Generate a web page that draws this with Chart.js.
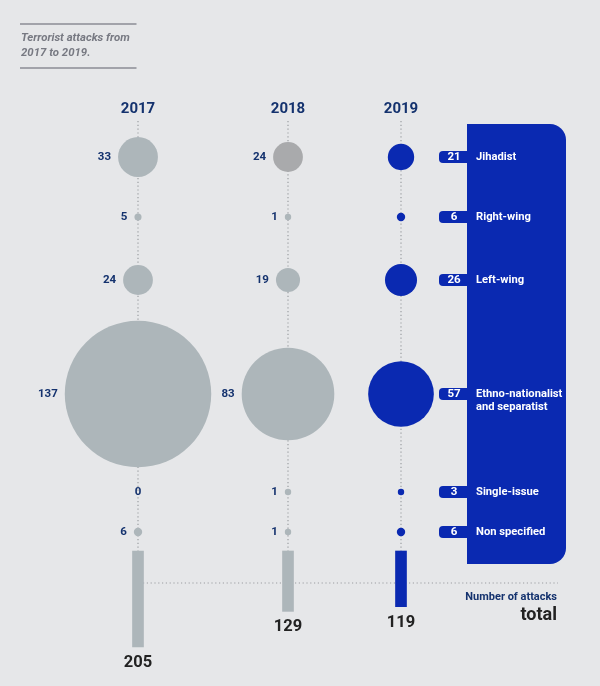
<!DOCTYPE html>
<html><head><meta charset="utf-8">
<script src="https://cdn.jsdelivr.net/npm/chart.js@4"></script>
<style>html,body{margin:0;padding:0;background:#e6e7e9;}canvas{display:block;}</style>
</head><body>
<canvas id="c" width="600" height="686" style="width:600px;height:686px"></canvas>
<script>
// ---- data ----
const years = ['2017', '2018', '2019'];
const categories = ['Jihadist', 'Right-wing', 'Left-wing', 'Ethno-nationalist\nand separatist', 'Single-issue', 'Non specified'];
const attacks2017 = [33, 5, 24, 137, 0, 6];
const attacks2018 = [24, 1, 19, 83, 1, 1];
const attacks2019 = [21, 6, 26, 57, 3, 6];
const totals = [205, 129, 119];
const titleLines = ['Terrorist attacks from', '2017 to 2019.'];

// ---- layout / style ----
const COL_X = [138, 288, 401];
const ROW_Y = [157, 217, 280, 394, 492, 532];
const LINE_TOP = 121, BAR_BASE = 551, H_LINE_Y = 583, H_LINE_X = [143, 558];
const BAR_PX = 0.468;
const GRAY = '#adb6ba', GRAY_DARK = '#a9aaac', BLUE = '#0a29b1', NAVY = '#14326e', DOT = '#9c9ea2';
const FONT = 'Roboto, "Noto Sans", sans-serif';

const series = [attacks2017, attacks2018, attacks2019];
function radiusFor(v) { if (v === 0) return 0; return Math.max(3.2, 0.816 * Math.pow(v, 0.914)); }
function colorFor(col, row) {
  if (col === 2) return BLUE;
  if (col === 1 && row === 0) return GRAY_DARK;
  return GRAY;
}

const bubblePts = [], bubbleCols = [];
series.forEach((vals, c) => vals.forEach((v, r) => {
  if (v > 0) { bubblePts.push({ x: COL_X[c], y: ROW_Y[r], r: radiusFor(v), v }); bubbleCols.push(colorFor(c, r)); }
}));

const dotted = { type: 'line', borderColor: DOT, borderWidth: 1.2, borderDash: [1.2, 2.6], pointRadius: 0, order: 5, fill: false, xAxisID: 'x', yAxisID: 'y' };
const lineSets = COL_X.map(x => Object.assign({}, dotted, { data: [{ x, y: LINE_TOP }, { x, y: BAR_BASE }] }));
lineSets.push(Object.assign({}, dotted, { data: [{ x: H_LINE_X[0], y: H_LINE_Y }, { x: H_LINE_X[1], y: H_LINE_Y }] }));

const overlay = {
  id: 'overlay',
  beforeDatasetsDraw(chart) {
    const ctx = chart.ctx;
    ctx.save();
    // title
    ctx.strokeStyle = '#8b8d94'; ctx.lineWidth = 1.6;
    [24, 68].forEach(y => { ctx.beginPath(); ctx.moveTo(20, y); ctx.lineTo(136.5, y); ctx.stroke(); });
    ctx.fillStyle = '#777982'; ctx.font = 'italic bold 11.4px ' + FONT; ctx.textBaseline = 'middle'; ctx.textAlign = 'left';
    titleLines.forEach((t, i) => ctx.fillText(t, 21, 38 + i * 15.5));
    // panel
    const sy = chart.scales.y;
    ctx.fillStyle = BLUE;
    ctx.beginPath(); ctx.roundRect(467, 124, 99, 440, [0, 16, 16, 0]); ctx.fill();
    categories.forEach((cat, r) => {
      const y = sy.getPixelForValue(ROW_Y[r]);
      ctx.fillStyle = BLUE;
      ctx.beginPath(); ctx.roundRect(439, y - 6, 32, 12, [4, 0, 0, 4]); ctx.fill();
      ctx.fillStyle = '#ffffff'; ctx.textBaseline = 'middle';
      ctx.font = 'bold 11.5px ' + FONT; ctx.textAlign = 'center';
      ctx.fillText(String(attacks2019[r]), 454, y + 0.5);
      ctx.font = 'bold 11.2px ' + FONT; ctx.textAlign = 'left';
      cat.split('\n').forEach((ln, i) => ctx.fillText(ln, 476, y + 0.5 + i * 13));
    });
    ctx.restore();
  },
  afterDatasetsDraw(chart) {
    const ctx = chart.ctx, sx = chart.scales.x, sy = chart.scales.y, st = chart.scales.yt;
    ctx.save();
    ctx.textBaseline = 'middle';
    // year labels
    ctx.fillStyle = NAVY; ctx.font = 'bold 15px ' + FONT; ctx.textAlign = 'center';
    years.forEach((yr, c) => ctx.fillText(yr, sx.getPixelForValue(COL_X[c]), 109));
    // value labels
    ctx.font = 'bold 11.5px ' + FONT;
    series.forEach((vals, c) => vals.forEach((v, r) => {
      const cx = sx.getPixelForValue(COL_X[c]), cy = sy.getPixelForValue(ROW_Y[r]);
      if (c === 2) return;
      if (v === 0) { ctx.textAlign = 'center'; ctx.fillText('0', cx, cy + 0.5); }
      else { ctx.textAlign = 'right'; ctx.fillText(String(v), cx - radiusFor(v) - 7, cy + 0.5); }
    }));
    // totals
    ctx.fillStyle = '#222222'; ctx.font = 'bold 16.5px ' + FONT; ctx.textAlign = 'center';
    totals.forEach((t, c) => ctx.fillText(String(t), sx.getPixelForValue(COL_X[c]), st.getPixelForValue(t) + 16));
    // bottom right labels
    ctx.textAlign = 'right';
    ctx.fillStyle = NAVY; ctx.font = 'bold 11px ' + FONT; ctx.fillText('Number of attacks', 557, 597);
    ctx.fillStyle = '#222222'; ctx.font = 'bold 18px ' + FONT; ctx.fillText('total', 557, 615);
    ctx.restore();
  }
};

new Chart(document.getElementById('c'), {
  data: {
    datasets: [
      ...lineSets,
      { type: 'bubble', data: bubblePts, backgroundColor: bubbleCols, borderWidth: 0, hoverBorderWidth: 0, order: 1, xAxisID: 'x', yAxisID: 'y' },
      { type: 'bar', data: totals.map((t, c) => ({ x: COL_X[c], y: t })), backgroundColor: [GRAY, GRAY, BLUE], barThickness: 11, order: 1, xAxisID: 'x', yAxisID: 'yt' }
    ]
  },
  options: {
    responsive: false, animation: false, events: [],
    layout: { padding: 0, autoPadding: false },
    plugins: { legend: { display: false }, tooltip: { enabled: false } },
    scales: {
      x: { type: 'linear', min: 0, max: 600, offset: false, display: false },
      y: { type: 'linear', min: 0, max: 686, reverse: true, display: false },
      yt: { type: 'linear', min: -BAR_BASE / BAR_PX, max: (686 - BAR_BASE) / BAR_PX, reverse: true, display: false }
    }
  },
  plugins: [overlay]
});
</script>
</body></html>
